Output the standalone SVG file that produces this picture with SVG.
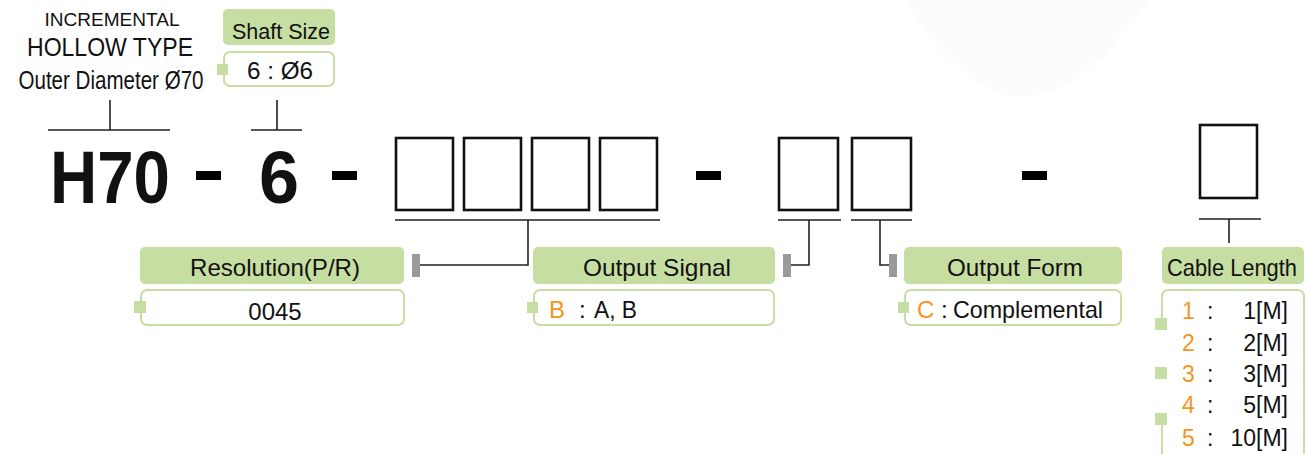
<svg xmlns="http://www.w3.org/2000/svg" width="1306" height="454" viewBox="0 0 1306 454">
<style>
text{font-family:"Liberation Sans",Arial,sans-serif;fill:#111}
.hd{fill:#c6dea1}
.val{fill:#fff;stroke:#c6dea1;stroke-width:2}
.sq{fill:#c6dea1}
.tab{fill:#9a9a9a}
.ln{stroke:#222;stroke-width:1.6;fill:none}
.box{fill:#fff;stroke:#111;stroke-width:2.6}
.org{fill:#f7941d}
.h{font-size:24px;text-anchor:middle}
.v{font-size:24px}
.c{font-size:23px}
</style>
<rect width="1306" height="454" fill="#fff"/>
<path d="M905,0 C925,40 960,75 1000,95 C1040,105 1080,80 1110,50 L1150,0 Z" fill="#f4f4f6" opacity="0.3"/>

<g id="title">
<text x="112" y="26" font-size="18" text-anchor="middle" textLength="135" lengthAdjust="spacingAndGlyphs">INCREMENTAL</text>
<text x="110" y="56" font-size="25" text-anchor="middle" textLength="166" lengthAdjust="spacingAndGlyphs">HOLLOW TYPE</text>
<text x="111" y="89" font-size="25" text-anchor="middle" textLength="185" lengthAdjust="spacingAndGlyphs">Outer Diameter Ø70</text>
</g>

<g id="shaft-size">
<rect class="hd" x="223" y="9" width="112" height="36" rx="5"/>
<text x="281" y="39" font-size="22" text-anchor="middle" textLength="98" lengthAdjust="spacingAndGlyphs">Shaft Size</text>
<rect class="val" x="224" y="52" width="110" height="34" rx="6"/>
<rect class="sq" x="217" y="64" width="11" height="11"/>
<text x="280" y="79" font-size="23" text-anchor="middle" textLength="66" lengthAdjust="spacingAndGlyphs">6 : Ø6</text>
</g>

<g id="code">
<text x="50" y="203" font-size="75" font-weight="bold" textLength="120" lengthAdjust="spacingAndGlyphs">H70</text>
<rect x="196" y="171" width="25" height="9" fill="#000"/>
<text x="259" y="203" font-size="75" font-weight="bold" textLength="40" lengthAdjust="spacingAndGlyphs">6</text>
<rect x="332" y="171" width="25" height="9" fill="#000"/>
<rect class="box" x="396" y="138" width="57" height="72"/>
<rect class="box" x="464" y="138" width="57" height="72"/>
<rect class="box" x="532" y="138" width="57" height="72"/>
<rect class="box" x="600" y="138" width="57" height="72"/>
<rect x="696" y="171" width="25" height="9" fill="#000"/>
<rect class="box" x="779" y="138" width="59" height="72"/>
<rect class="box" x="852" y="138" width="59" height="72"/>
<rect x="1022" y="171" width="25" height="9" fill="#000"/>
<rect class="box" x="1200" y="125" width="57" height="73"/>
</g>

<g id="connectors">
<path class="ln" d="M48,130 H170 M110,100 V130"/>
<path class="ln" d="M251,130 H302 M277,100 V130"/>
<path class="ln" d="M395,220 H660 M528,220 V265 H420"/>
<rect class="tab" x="412" y="254" width="8" height="23"/>
<path class="ln" d="M778,220 H841 M809,220 V265 H791"/>
<rect class="tab" x="783" y="254" width="8" height="23"/>
<path class="ln" d="M851,220 H912 M880,220 V265 H889"/>
<rect class="tab" x="889" y="254" width="8" height="23"/>
<path class="ln" d="M1199,219 H1261 M1229,219 V243"/>
</g>

<g id="resolution">
<rect class="hd" x="140" y="247" width="264" height="37" rx="5"/>
<text class="h" x="275" y="276" textLength="170" lengthAdjust="spacingAndGlyphs">Resolution(P/R)</text>
<rect class="val" x="141" y="290" width="263" height="35" rx="6"/>
<rect class="sq" x="134" y="301" width="12" height="12"/>
<text class="v" x="275" y="320" text-anchor="middle">0045</text>
</g>

<g id="output-signal">
<rect class="hd" x="533" y="247" width="242" height="37" rx="5"/>
<text class="h" x="657" y="276" textLength="148" lengthAdjust="spacingAndGlyphs">Output Signal</text>
<rect class="val" x="534" y="290" width="240" height="35" rx="6"/>
<rect class="sq" x="527" y="302" width="11" height="11"/>
<text class="v org" x="549" y="318">B</text>
<text class="v" x="579" y="318">:</text>
<text class="v" x="594" y="318" textLength="43" lengthAdjust="spacingAndGlyphs">A, B</text>
</g>

<g id="output-form">
<rect class="hd" x="904" y="247" width="218" height="37" rx="5"/>
<text class="h" x="1015" y="276" textLength="136" lengthAdjust="spacingAndGlyphs">Output Form</text>
<rect class="val" x="905" y="290" width="216" height="35" rx="6"/>
<rect class="sq" x="898" y="302" width="11" height="11"/>
<text class="v org" x="917" y="318">C</text>
<text class="v" x="941" y="318">:</text>
<text class="v" x="953" y="318" textLength="150" lengthAdjust="spacingAndGlyphs">Complemental</text>
</g>

<g id="cable-length">
<rect class="hd" x="1162" y="247" width="142" height="37" rx="5"/>
<text class="h" x="1232" y="276" font-size="23" textLength="130" lengthAdjust="spacingAndGlyphs">Cable Length</text>
<path class="val" d="M1162,318 V297 Q1162,290 1169,290 H1297 Q1304,290 1304,297 V460"/>
<path class="val" d="M1162,424 V460"/>
<rect class="sq" x="1155" y="318" width="12" height="12"/>
<rect class="sq" x="1155" y="367" width="12" height="12"/>
<rect class="sq" x="1155" y="413" width="12" height="12"/>
<text class="c org" x="1182" y="319">1</text><text class="c" x="1207" y="319">:</text><text class="c" x="1288" y="319" text-anchor="end">1[M]</text>
<text class="c org" x="1182" y="351">2</text><text class="c" x="1207" y="351">:</text><text class="c" x="1288" y="351" text-anchor="end">2[M]</text>
<text class="c org" x="1182" y="382">3</text><text class="c" x="1207" y="382">:</text><text class="c" x="1288" y="382" text-anchor="end">3[M]</text>
<text class="c org" x="1182" y="413">4</text><text class="c" x="1207" y="413">:</text><text class="c" x="1288" y="413" text-anchor="end">5[M]</text>
<text class="c org" x="1182" y="446">5</text><text class="c" x="1207" y="446">:</text><text class="c" x="1288" y="446" text-anchor="end">10[M]</text>
</g>
</svg>
